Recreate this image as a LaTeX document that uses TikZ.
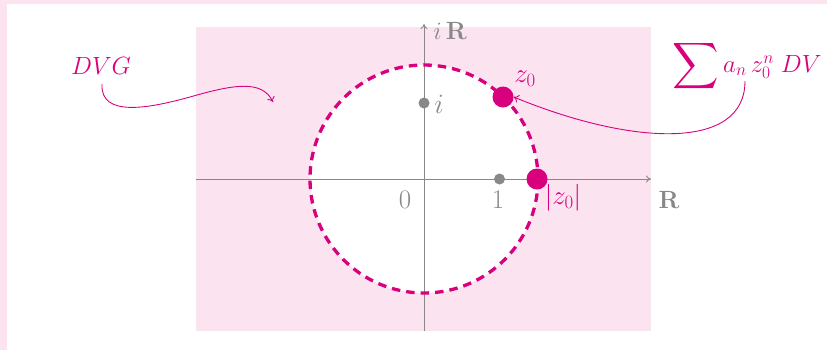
\RequirePackage{fix-cm}
\documentclass[tikz,border=0pt]{standalone}
\usepackage{amsmath}
\usepackage{graphicx}
\usetikzlibrary{arrows.meta}
\definecolor{mag}{HTML}{D9007E}
\definecolor{pinkbg}{HTML}{FBE4F0}
\definecolor{axgray}{HTML}{888888}
\newcommand{\bigsumsym}{\mathop{\vcenter{\hbox{\scalebox{1.3}{$\displaystyle\sum$}}}}}
\begin{document}
\begin{tikzpicture}[x=1bp,y=-1bp,font=\fontsize{25}{30}\selectfont,
  axis/.style={axgray,line width=0.9bp,-{To[length=5bp,width=7bp]}},
  callout/.style={mag,line width=0.9bp,-{To[length=5bp,width=8bp]}},
  graydot/.style={fill=axgray,circle,inner sep=0pt,minimum size=11bp},
  magdot/.style={fill=mag,circle,inner sep=0pt,minimum size=21bp},
  graylbl/.style={text=axgray,inner sep=0pt},
  maglbl/.style={text=mag,inner sep=0pt},
  digit/.style={graylbl,font=\fontsize{27}{32}\selectfont}]
\useasboundingbox (0,0) rectangle (827,350);
\fill[white] (0,0) rectangle (827,350);
\fill[pinkbg] (0,0) rectangle (827,4);
\fill[pinkbg] (0,0) rectangle (7,350);
\fill[pinkbg] (196,27) rectangle (651,331);
\coordinate (O) at (424,179);
\fill[white] (O) circle[radius=114];
\coordinate (xl) at (196,179);
\coordinate (xr) at (651,179);
\coordinate (yb) at (424,331);
\coordinate (yt) at (424,24);
\draw[axis] (xl) -- (xr);
\draw[axis] (yb) -- (yt);
\draw[mag,line width=3.3bp,dash pattern=on 8.5bp off 6bp] (O) circle[radius=114];
\node[graydot] (one) at (499.5,179) {};
\node[graydot] (ii) at (424,103) {};
\node[magdot] (z0) at (503,97) {};
\node[magdot] (absz) at (537,179) {};
\node[digit] (lzero) at (405,200) {0};
\node[digit] (lone) at (498,200) {1};
\node[graylbl,font=\fontsize{28}{32}\selectfont] (li) at (439,104) {$i$};
\node[graylbl] (liR) at (450,31) {$i\,\mathbf{R}$};
\node[graylbl] (lR) at (669,200) {$\mathbf{R}$};
\node[maglbl,font=\fontsize{27}{32}\selectfont] (lz0) at (525,79) {$z_0$};
\node[maglbl,font=\fontsize{27}{32}\selectfont] (labs) at (563,198) {$|z_0|$};
\node[maglbl] (dvg) at (101,66) {$DVG$};
\node[maglbl] (sum) at (747,66) {$\bigsumsym a_n\, z_0^n\; DV$};
\coordinate (dvgs) at (102,84);
\coordinate (dvgt) at (273,102);
\draw[callout] (dvgs) .. controls (100,118) and (150,108) .. (190,97)
  .. controls (235,84) and (262,80) .. (dvgt);
\coordinate (sums) at (745,81);
\draw[callout] (sums) .. controls (745,152) and (630,145) .. (z0.east);
\end{tikzpicture}
\end{document}
